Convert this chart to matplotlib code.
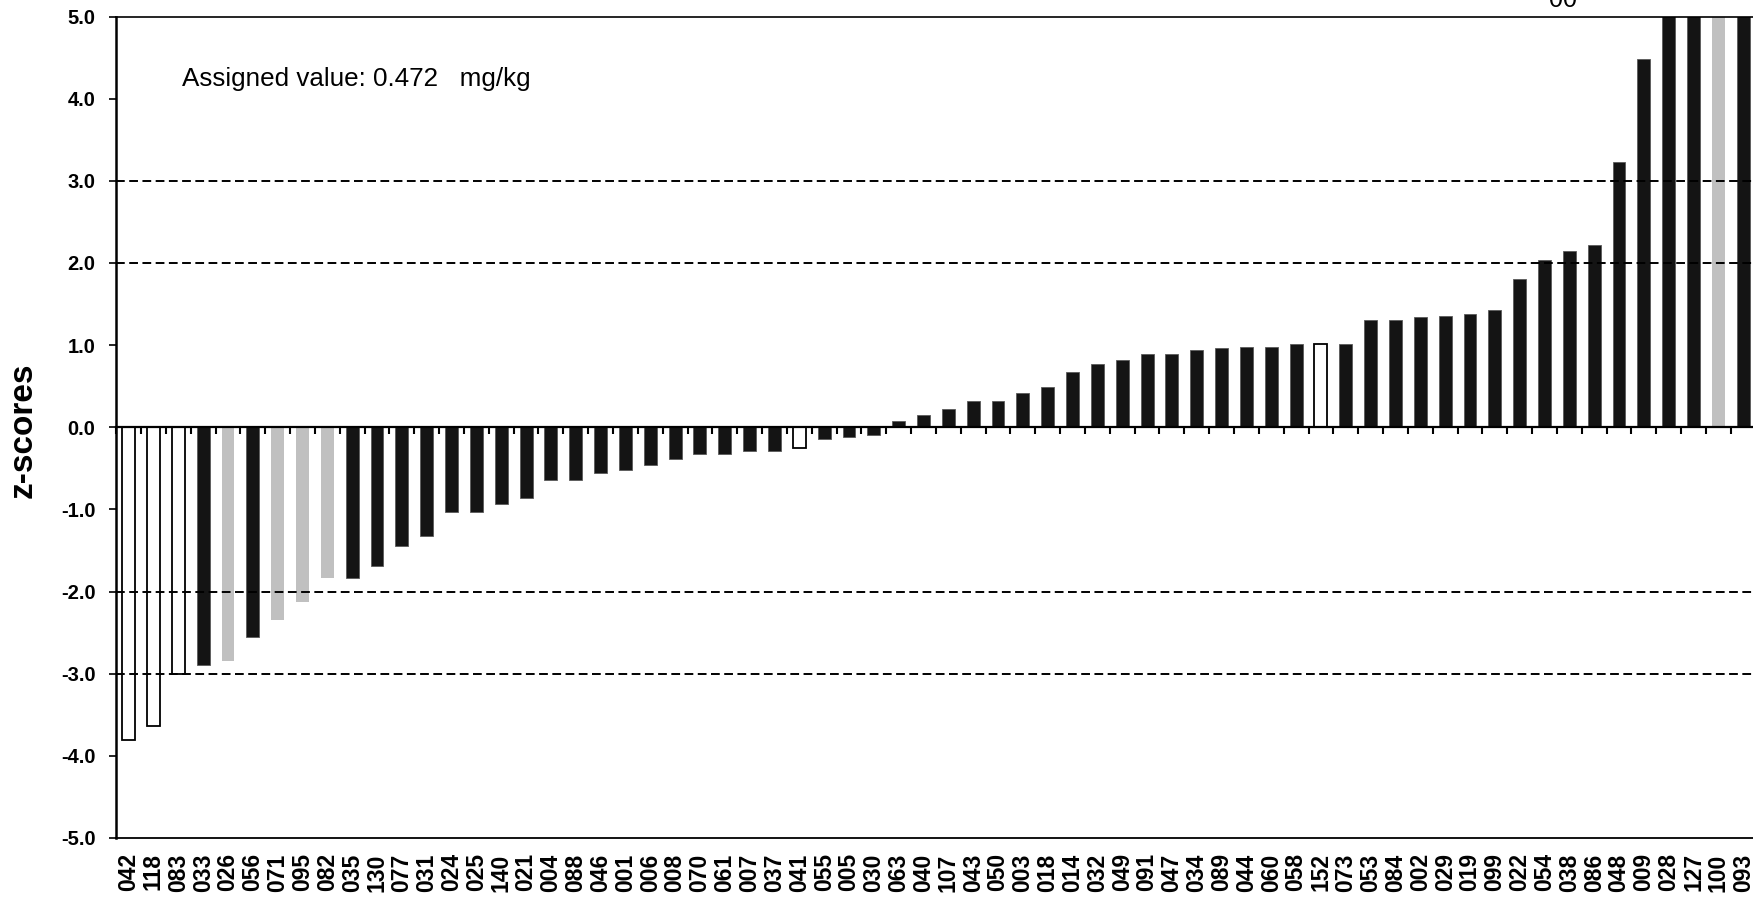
import numpy as np
import matplotlib
matplotlib.use("Agg")
import matplotlib.pyplot as plt

plt.rcParams['font.family'] = ['Liberation Sans', 'DejaVu Sans']

# lab codes, sorted by z-score
labs = ['042', '118', '083', '033', '026', '056', '071', '095', '082', '035',
        '130', '077', '031', '024', '025', '140', '021', '004', '088', '046',
        '001', '006', '008', '070', '061', '007', '037', '041', '055', '005',
        '030', '063', '040', '107', '043', '050', '003', '018', '014', '032',
        '049', '091', '047', '034', '089', '044', '060', '058', '152', '073',
        '053', '084', '002', '029', '019', '099', '022', '054', '038', '086',
        '048', '009', '028', '127', '100', '093']

# z-scores (the last four are off scale)
zscores = [-3.81, -3.64, -3.00, -2.89, -2.84, -2.55, -2.35, -2.13, -1.84, -1.84,
           -1.69, -1.45, -1.33, -1.03, -1.03, -0.94, -0.86, -0.64, -0.64, -0.56,
           -0.52, -0.46, -0.386, -0.33, -0.33, -0.29, -0.29, -0.25, -0.14, -0.12,
           -0.09, 0.08, 0.155, 0.22, 0.32, 0.32, 0.42, 0.49, 0.67, 0.77,
           0.82, 0.89, 0.89, 0.94, 0.97, 0.98, 0.98, 1.01, 1.01, 1.01,
           1.31, 1.31, 1.34, 1.36, 1.38, 1.43, 1.81, 2.03, 2.15, 2.22,
           3.23, 4.48, 7.2, 8.0, 9.1, 10.5]

# bar kind: k = black, g = grey, w = hollow
kinds = ['w', 'w', 'w', 'k', 'g', 'k', 'g', 'g', 'g', 'k',
         'k', 'k', 'k', 'k', 'k', 'k', 'k', 'k', 'k', 'k',
         'k', 'k', 'k', 'k', 'k', 'k', 'k', 'w', 'k', 'k',
         'k', 'k', 'k', 'k', 'k', 'k', 'k', 'k', 'k', 'k',
         'k', 'k', 'k', 'k', 'k', 'k', 'k', 'k', 'w', 'k',
         'k', 'k', 'k', 'k', 'k', 'k', 'k', 'k', 'k', 'k',
         'k', 'k', 'k', 'k', 'g', 'k']

limit_lines = [-3, -2, 2, 3]
assigned_text = 'Assigned value: 0.472   mg/kg'

styles = {'k': ('#141414', '#5a5a5a', 0.6),
          'g': ('#c0c0c0', '#c0c0c0', 0.0),
          'w': ('white', 'black', 1.3)}

fig = plt.figure(figsize=(17.53, 9.07), dpi=100)
ax = fig.add_axes([0.0663, 0.0761, 0.9352, 0.9057])

x = np.arange(len(labs))
ax.bar(x, zscores, width=0.52,
       color=[styles[k][0] for k in kinds],
       edgecolor=[styles[k][1] for k in kinds],
       linewidth=[styles[k][2] for k in kinds], zorder=2)

# dashed limits at |z| = 2 and 3
for yv in limit_lines:
    ax.axhline(yv, color='black', lw=1.4, dashes=(4.5, 2.3), zorder=3)

ax.set_xlim(-0.5, len(labs) - 0.5)
ax.set_ylim(-5, 5)

# y axis
ax.set_yticks(np.arange(-5, 6))
ax.set_yticklabels(['%.1f' % v for v in np.arange(-5, 6)], fontsize=14.5, fontweight='bold')
ax.tick_params(axis='y', direction='out', length=5, width=1.2, pad=10)

# lab labels at the bottom
ax.set_xticks(x)
ax.set_xticklabels(labs, rotation=90, fontsize=16.5, fontweight='bold', va='top')
ax.tick_params(axis='x', length=0, pad=11)

ax.spines['left'].set_linewidth(1.8)
ax.spines['top'].set_linewidth(1.2)
ax.spines['bottom'].set_linewidth(1.3)
ax.spines['right'].set_visible(False)

# zero axis with ticks between categories
zero_ax = ax.secondary_xaxis(0, transform=ax.transData)
zero_ax.set_xticks(np.arange(len(labs) + 1) - 0.5)
zero_ax.tick_params(axis='x', direction='out', length=5, width=1.5, labelbottom=False, labeltop=False)
zero_ax.spines['bottom'].set_linewidth(1.6)
zero_ax.set_zorder(4)

fig.text(0.0131, 0.526, 'z-scores', rotation=90, ha='center', va='center',
         fontsize=24, fontweight='bold')
fig.text(0.1037, 0.9055, assigned_text, fontsize=18.7, va='baseline')
fig.text(0.8916, 0.9923, '00', fontsize=18, ha='center', va='baseline')

fig.savefig('out.png', dpi=100)
